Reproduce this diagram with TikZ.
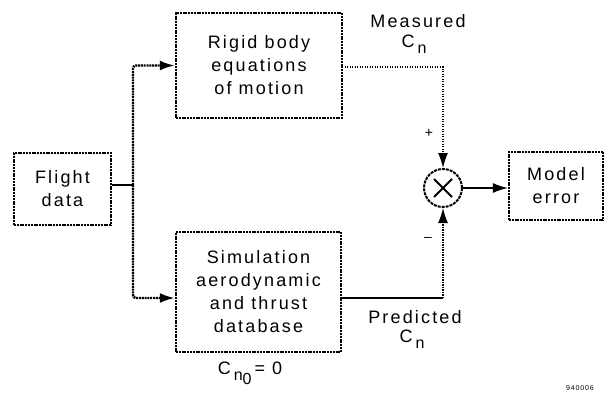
\documentclass[tikz,border=0pt]{standalone}
\usepackage{fontspec}
\setmainfont{Liberation Sans}[LetterSpace=12]
\usetikzlibrary{arrows.meta,calc}
\tikzset{
  blk/.style={draw, line width=2.4pt, dash pattern=on 2pt off 0.8pt, fill=white, align=center, inner sep=0pt,
    font=\fontsize{18}{23}\selectfont},
  fanout/.style={line width=2.4pt, dash pattern=on 2pt off 0.8pt, rounded corners=3pt},
  meas/.style={line width=1.3pt, dash pattern=on 1.3pt off 1.2pt},
  plain/.style={line width=1.2pt},
  tip/.style={-{Latex[length=15pt,width=10pt]}},
  lbl/.style={font=\fontsize{18}{20}\selectfont, inner sep=0pt},
  sgn/.style={font=\fontsize{14}{14}\selectfont, inner sep=0pt},
}
\newcommand{\subn}{\raisebox{-6pt}{\fontsize{16}{16}\selectfont n}}
\begin{document}
\begin{tikzpicture}[x=1pt,y=-1pt]
\useasboundingbox (0,0) rectangle (610,397);
% blocks
\node[blk, minimum width=97pt, minimum height=72pt] (fd) at (62.5,189) {Flight\\data};
\node[blk, minimum width=166pt, minimum height=105pt] (rb) at (259,65.5) {Rigid body\\equations\\of motion};
\node[blk, minimum width=165pt, minimum height=120pt] (sim) at (258.5,292) {Simulation\\aerodynamic\\and thrust\\database};
\node[blk, minimum width=94pt, minimum height=68pt] (me) at (556,186) {Model\\error};
% summing junction
\node[draw, circle, line width=2pt, dash pattern=on 3pt off 1pt, minimum size=38pt, inner sep=0pt] (sum) at (443,188) {};
\draw[line width=1.8pt] ($(sum.center)+(-9,-9)$) -- ($(sum.center)+(9,9)$);
\draw[line width=1.8pt] ($(sum.center)+(-9,9)$) -- ($(sum.center)+(9,-9)$);
% coordinates
\coordinate (split) at (133,185);
\coordinate (pc) at (443,298);
\coordinate (mc) at (342,67);
% connectors
\draw[plain] (fd.east |- split) -- (split);
\draw[fanout, tip] (split) |- (rb.west);
\draw[fanout, tip] (split) |- (sim.west |- pc);
\draw[meas, tip] (mc) -| (sum.north);
\draw[plain] (sim.east |- pc) -- (pc);
\draw[meas, tip] (pc) -- (sum.south);
\draw[plain, tip] (sum.east) -- (sum.east -| me.west);
% labels
\node[lbl] (mlab) at (418,21) {Measured};
\node[lbl] (mcn) at (414,44) {C\,\subn};
\node[lbl] (plab) at (415,317) {Predicted};
\node[lbl] (pcn) at (412,339) {C\,\subn};
\node[lbl] (cn0) at (250,373) {C\,\raisebox{-6pt}{\fontsize{16}{16}\selectfont n\raisebox{-4pt}{0}}\,= 0};
\node[sgn] (plus) at (429,133) {+};
\node[sgn] (minus) at (428,239) {\textendash};
\node[font=\fontsize{7}{7}\selectfont, inner sep=0pt] (id) at (580,388) {940006};
\end{tikzpicture}
\end{document}
